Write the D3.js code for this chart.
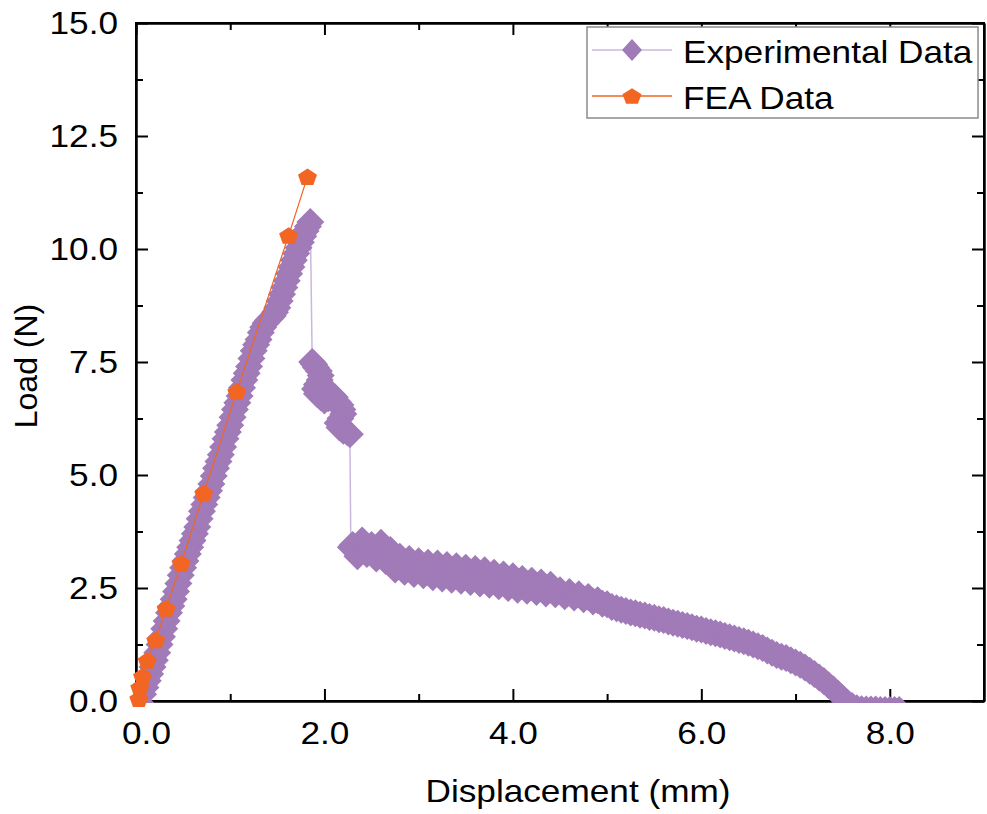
<!DOCTYPE html>
<html>
<head>
<meta charset="utf-8">
<script src="https://cdn.jsdelivr.net/npm/d3@7"></script>
<style>
  body { margin: 0; background: #fff; }
  text { font-family: "Liberation Sans", Arial, sans-serif; font-size: 32px; fill: #000; }
  .wide { transform-box: fill-box; transform-origin: 50% 50%; transform: scaleX(1.1); }
  .wide-right { transform-box: fill-box; transform-origin: 100% 50%; transform: scaleX(1.1); }
  .wide-left { transform-box: fill-box; transform-origin: 0% 50%; transform: scaleX(1.1); }
</style>
</head>
<body>
<svg id="chart"></svg>
<script>

// experimental curve: rise, first drop, second drop, softening tail
const riseX = [
  0.025, 0.050, 0.075, 0.100, 0.125, 0.150, 0.175, 0.200, 0.225, 0.250, 0.275, 0.300, 0.325, 0.350, 0.375,
  0.400, 0.425, 0.450, 0.475, 0.500, 0.525, 0.550, 0.575, 0.600, 0.625, 0.650, 0.675, 0.700, 0.725, 0.750,
  0.775, 0.800, 0.825, 0.850, 0.875, 0.900, 0.925, 0.950, 0.975, 1.000, 1.025, 1.050, 1.075, 1.100, 1.125,
  1.150, 1.175, 1.200, 1.225, 1.250, 1.275, 1.300, 1.325, 1.350, 1.375, 1.400, 1.425, 1.450, 1.475, 1.500,
  1.525, 1.550, 1.575, 1.600, 1.625, 1.650, 1.675, 1.700, 1.725, 1.750, 1.775, 1.800, 1.825, 1.850
];
const riseY = [
  -0.30, -0.05, 0.15, 0.30, 0.45, 0.60, 0.75, 0.90, 1.07, 1.25, 1.42, 1.60, 1.77, 1.95, 2.10,
  2.25, 2.42, 2.60, 2.78, 2.95, 3.10, 3.25, 3.40, 3.55, 3.70, 3.85, 4.03, 4.20, 4.35, 4.50,
  4.65, 4.80, 4.98, 5.15, 5.30, 5.45, 5.62, 5.80, 5.95, 6.10, 6.28, 6.45, 6.60, 6.75, 6.93,
  7.10, 7.25, 7.40, 7.58, 7.75, 7.88, 8.00, 8.15, 8.27, 8.36, 8.42, 8.47, 8.52, 8.60, 8.70,
  8.85, 9.00, 9.15, 9.30, 9.45, 9.60, 9.75, 9.90, 10.03, 10.15, 10.28, 10.40, 10.50, 10.60
];
const dropX = [
  1.87, 1.89, 1.91, 1.94, 1.96, 1.95, 1.92, 1.90, 1.92, 1.96, 2.00, 2.04,
  2.08, 2.11, 2.14, 2.17, 2.19, 2.20, 2.17, 2.14, 2.16, 2.20, 2.24, 2.27
];
const dropY = [
  7.50, 7.45, 7.38, 7.30, 7.20, 7.10, 7.00, 6.90, 6.80, 6.72, 6.65, 6.70,
  6.78, 6.72, 6.62, 6.55, 6.45, 6.35, 6.25, 6.15, 6.05, 5.98, 5.95, 5.90
];
const tailX = [
  2.28, 2.30, 2.35, 2.40, 2.45, 2.50, 2.55, 2.60, 2.65, 2.70, 2.75, 2.80, 2.85, 2.90, 2.95, 3.00,
  3.05, 3.10, 3.15, 3.20, 3.25, 3.30, 3.35, 3.40, 3.45, 3.50, 3.55, 3.60, 3.65, 3.70, 3.75, 3.80,
  3.85, 3.90, 3.95, 4.00, 4.05, 4.10, 4.15, 4.20, 4.25, 4.30, 4.35, 4.40, 4.45, 4.50, 4.55, 4.60,
  4.65, 4.70, 4.75, 4.80, 4.85, 4.90, 4.95, 5.00, 5.05, 5.10, 5.15, 5.20, 5.25, 5.30, 5.35, 5.40,
  5.45, 5.50, 5.55, 5.60, 5.65, 5.70, 5.75, 5.80, 5.85, 5.90, 5.95, 6.00, 6.05, 6.10, 6.15, 6.20,
  6.25, 6.30, 6.35, 6.40, 6.45, 6.50, 6.55, 6.60, 6.65, 6.70, 6.75, 6.80, 6.85, 6.90, 6.95, 7.00,
  7.05, 7.10, 7.15, 7.20, 7.25, 7.30, 7.35, 7.40, 7.45, 7.50, 7.55, 7.60, 7.65, 7.70, 7.75, 7.80,
  7.85, 7.90, 7.95, 8.00, 8.05, 8.10
];
const tailY = [
  3.40, 3.45, 3.20, 3.55, 3.25, 3.45, 3.15, 3.50, 3.10, 3.34, 2.91, 3.19, 2.86, 3.14, 2.81, 3.09,
  2.78, 3.06, 2.74, 3.04, 2.71, 3.01, 2.68, 2.98, 2.66, 2.95, 2.63, 2.92, 2.60, 2.89, 2.57, 2.84,
  2.54, 2.80, 2.50, 2.76, 2.46, 2.70, 2.44, 2.66, 2.41, 2.62, 2.38, 2.57, 2.36, 2.45, 2.32, 2.41,
  2.29, 2.36, 2.25, 2.30, 2.20, 2.23, 2.15, 2.14, 2.08, 2.05, 2.02, 1.99, 1.96, 1.94, 1.91, 1.89,
  1.86, 1.84, 1.81, 1.79, 1.76, 1.73, 1.71, 1.68, 1.66, 1.63, 1.60, 1.58, 1.55, 1.52, 1.50, 1.47,
  1.44, 1.41, 1.38, 1.35, 1.32, 1.29, 1.25, 1.21, 1.17, 1.12, 1.07, 1.02, 0.98, 0.95, 0.90, 0.85,
  0.80, 0.74, 0.67, 0.60, 0.52, 0.44, 0.35, 0.26, 0.16, 0.06, -0.04, -0.11, -0.16, -0.18, -0.19, -0.19,
  -0.19, -0.20, -0.20, -0.20, -0.20, -0.20
];

const feaX = [0.03, 0.04, 0.07, 0.12, 0.21, 0.32, 0.48, 0.72, 1.07, 1.62, 1.82];
const feaY = [0.05, 0.30, 0.55, 0.90, 1.35, 2.05, 3.05, 4.60, 6.85, 10.30, 11.60];

const xTicks = [0, 2, 4, 6, 8];
const xMinorTicks = [1, 3, 5, 7];
const yTicks = [0, 2.5, 5, 7.5, 10, 12.5, 15];
const yMinorTicks = [1.25, 3.75, 6.25, 8.75, 11.25, 13.75];

const seriesNames = ['Experimental Data', 'FEA Data'];
const expColor = '#a17ab8', expLineColor = '#cbb7de';
const feaColor = '#f26522';

const W = 987, H = 814;
const margin = { top: 23, right: 3, bottom: 113, left: 136 };
const width = W - margin.left - margin.right;
const height = H - margin.top - margin.bottom;

const svg = d3.select('#chart').attr('width', W).attr('height', H);
const chart = svg.append('g').attr('transform', `translate(${margin.left},${margin.top})`);

const x = d3.scaleLinear().domain([0, 9]).range([0, width]);
const y = d3.scaleLinear().domain([0, 15]).range([height, 0]);

const fmt = d3.format('.1f');

// axes: ticks point inward on all four sides
const gx = chart.append('g').attr('transform', `translate(0,${height})`)
    .call(d3.axisBottom(x).tickValues(xTicks).tickFormat(fmt).tickSize(-12).tickSizeOuter(0).tickPadding(20));
gx.selectAll('text').attr('class', 'wide');
gx.selectAll('.tick').filter(d => d === 0).select('text').attr('x', 10);

const gy = chart.append('g')
    .call(d3.axisLeft(y).tickValues(yTicks).tickFormat(fmt).tickSize(-12).tickSizeOuter(0).tickPadding(18));
gy.selectAll('text').attr('class', 'wide-right');

chart.append('g').attr('transform', `translate(0,${height})`)
    .call(d3.axisBottom(x).tickValues(xMinorTicks).tickFormat('').tickSize(-7).tickSizeOuter(0));
chart.append('g')
    .call(d3.axisLeft(y).tickValues(yMinorTicks).tickFormat('').tickSize(-7).tickSizeOuter(0));

chart.append('g')
    .call(d3.axisTop(x).tickValues(xTicks).tickFormat('').tickSize(-12).tickSizeOuter(0));
chart.append('g')
    .call(d3.axisTop(x).tickValues(xMinorTicks).tickFormat('').tickSize(-7).tickSizeOuter(0));
chart.append('g').attr('transform', `translate(${width},0)`)
    .call(d3.axisRight(y).tickValues(yTicks).tickFormat('').tickSize(-12).tickSizeOuter(0));
chart.append('g').attr('transform', `translate(${width},0)`)
    .call(d3.axisRight(y).tickValues(yMinorTicks).tickFormat('').tickSize(-7).tickSizeOuter(0));

chart.selectAll('.domain, .tick line').attr('stroke', '#000').attr('stroke-width', 2);

chart.append('rect')
    .attr('width', width).attr('height', height)
    .attr('fill', 'none').attr('stroke', '#000').attr('stroke-width', 2);

// data
chart.append('clipPath').attr('id', 'plotClip')
  .append('rect').attr('x', 0).attr('y', 0).attr('width', width).attr('height', height + 2);

const expX = riseX.concat(dropX, tailX);
const expY = riseY.concat(dropY, tailY);
const expData = expX.map((v, i) => ({ x: v, y: expY[i] }));
const feaData = feaX.map((v, i) => ({ x: v, y: feaY[i] }));

const line = d3.line().x(d => x(d.x)).y(d => y(d.y));

const diamond = (w, h) => `M0,${-h}L${w},0L0,${h}L${-w},0Z`;
const pentagon = (rx, ry) => {
    const pts = d3.range(5).map(k => {
        const a = -Math.PI / 2 + k * 2 * Math.PI / 5;
        return [rx * Math.cos(a), ry * Math.sin(a) + ry * 0.1];
    });
    return 'M' + pts.map(p => p.join(',')).join('L') + 'Z';
};

const expG = chart.append('g').attr('clip-path', 'url(#plotClip)');
expG.append('path').datum(expData)
    .attr('d', line).attr('fill', 'none')
    .attr('stroke', expLineColor).attr('stroke-width', 1.5);
expG.selectAll('path.pt').data(expData).join('path')
    .attr('class', 'pt')
    .attr('transform', d => `translate(${x(d.x)},${y(d.y)})`)
    .attr('d', diamond(14, 14))
    .attr('fill', expColor);

chart.append('path').datum(feaData)
    .attr('d', line).attr('fill', 'none')
    .attr('stroke', feaColor).attr('stroke-width', 1.2);
chart.selectAll('path.fea').data(feaData).join('path')
    .attr('class', 'fea')
    .attr('transform', d => `translate(${x(d.x)},${y(d.y)})`)
    .attr('d', pentagon(10, 9.2))
    .attr('fill', feaColor);

// axis titles
svg.append('text')
    .attr('class', 'wide')
    .attr('x', 578).attr('y', 802)
    .attr('text-anchor', 'middle')
    .text('Displacement (mm)');

svg.append('text')
    .attr('transform', 'translate(37,366) rotate(-90)')
    .attr('text-anchor', 'middle')
    .text('Load (N)');

// legend
const legend = svg.append('g').attr('transform', 'translate(587,27)');
legend.append('rect')
    .attr('width', 391).attr('height', 91)
    .attr('fill', '#fff').attr('stroke', '#8c8c8c').attr('stroke-width', 1.5);

const legendRows = [
    { name: seriesNames[0], line: expLineColor, fill: expColor, shape: diamond(10, 11), cy: 23 },
    { name: seriesNames[1], line: feaColor, fill: feaColor, shape: pentagon(10, 8.5), cy: 69 }
];
const rows = legend.selectAll('g.row').data(legendRows).join('g').attr('class', 'row');
rows.append('line')
    .attr('x1', 5).attr('x2', 85).attr('y1', d => d.cy).attr('y2', d => d.cy)
    .attr('stroke', d => d.line).attr('stroke-width', 1.5);
rows.append('path')
    .attr('transform', d => `translate(45,${d.cy})`)
    .attr('d', d => d.shape)
    .attr('fill', d => d.fill);
rows.append('text')
    .attr('class', 'wide-left')
    .attr('x', 96).attr('y', d => d.cy + 13)
    .text(d => d.name);

</script>
</body>
</html>
